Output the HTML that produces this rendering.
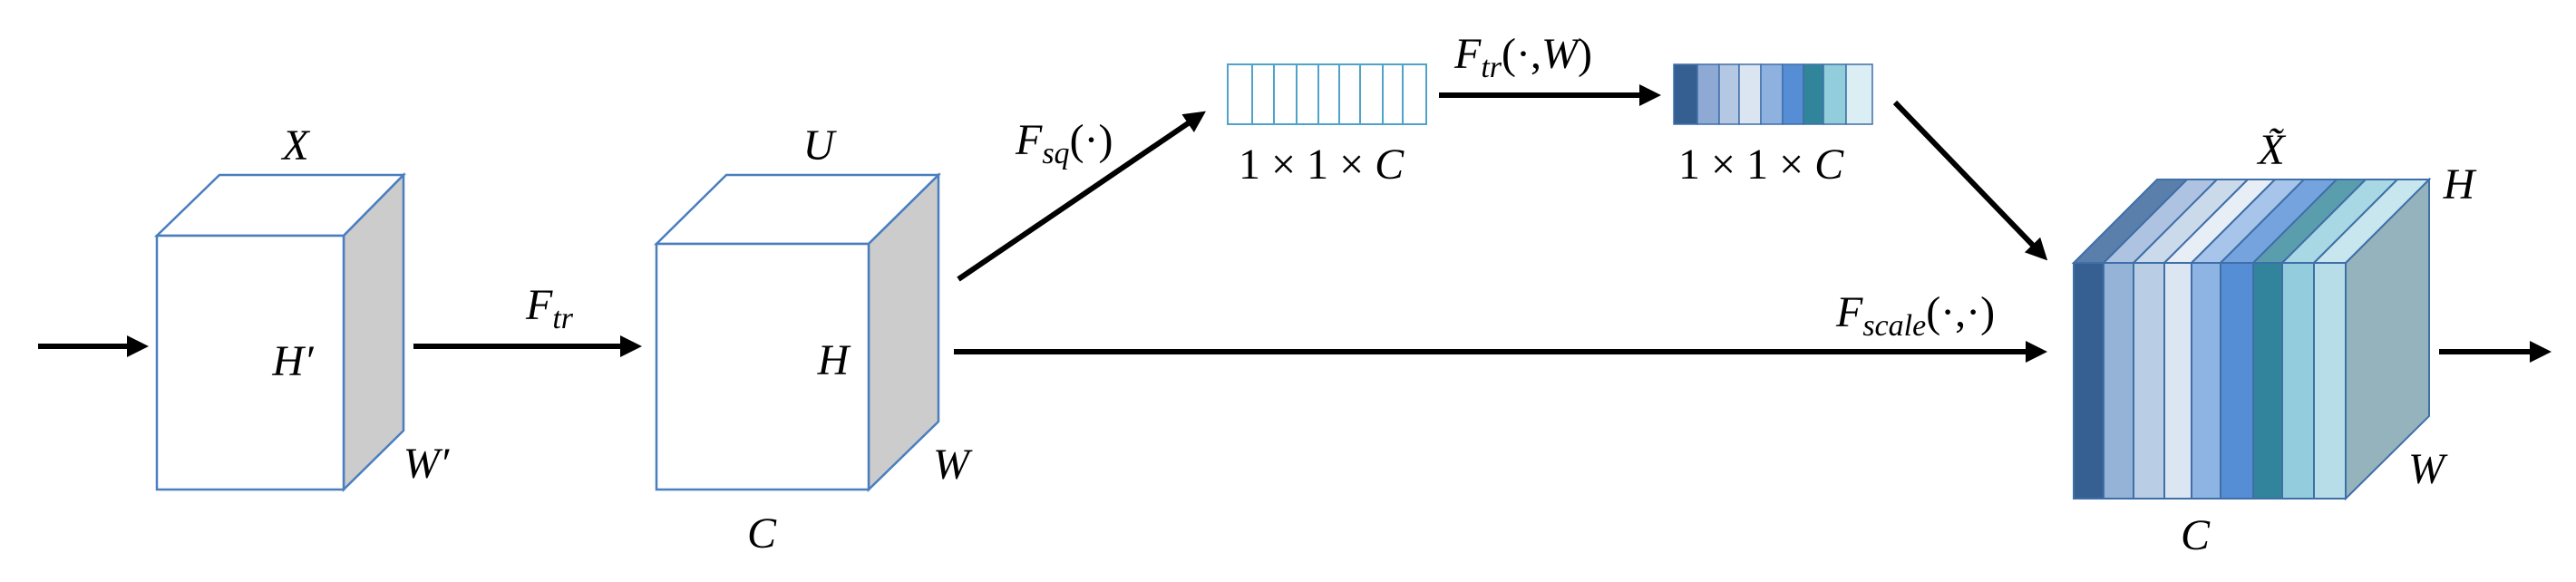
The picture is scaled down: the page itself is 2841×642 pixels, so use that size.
<!DOCTYPE html>
<html><head><meta charset="utf-8"><style>
html,body{margin:0;padding:0;background:#fff}
svg{display:block}
text{font-family:"Liberation Serif",serif;font-style:italic;fill:#000}
.n{font-style:normal}
</style></head><body>
<svg width="2841" height="642" viewBox="0 0 2841 642" xmlns="http://www.w3.org/2000/svg">
<defs>
<marker id="ah" markerWidth="4" markerHeight="4" refX="3" refY="2" orient="auto" markerUnits="strokeWidth">
<path d="M0,0 L4,2 L0,4 z" fill="#000"/></marker>
</defs>
<g stroke="#000" stroke-width="6" fill="none" marker-end="url(#ah)">
<line x1="42" y1="382" x2="158" y2="382"/>
<line x1="456" y1="382" x2="702" y2="382"/>
<line x1="1057" y1="308" x2="1325" y2="126"/>
<line x1="1587" y1="105" x2="1826" y2="105"/>
<line x1="2090" y1="113" x2="2254" y2="283"/>
<line x1="1052" y1="388" x2="2252" y2="388"/>
<line x1="2690" y1="388" x2="2808" y2="388"/>
</g>
<!-- Box X -->
<g stroke="#4a7ebf" stroke-width="2.5">
<polygon points="173,260 242,193 445,193 379,260" fill="#fff"/>
<polygon points="379,260 445,193 445,475 379,540" fill="#cccccc"/>
<rect x="173" y="260" width="206" height="280" fill="#fff"/>
<polygon points="724,269 801,193 1035,193 958,269" fill="#fff"/>
<polygon points="958,269 1035,193 1035,465 958,540" fill="#cccccc"/>
<rect x="724" y="269" width="234" height="271" fill="#fff"/>
</g>
<!-- vectors -->
<g stroke="#4fa3c8" stroke-width="2" fill="#fff">
<rect x="1354" y="71" width="219" height="66"/>
<line x1="1381" y1="71" x2="1381" y2="137"/><line x1="1405" y1="71" x2="1405" y2="137"/>
<line x1="1430" y1="71" x2="1430" y2="137"/><line x1="1454" y1="71" x2="1454" y2="137"/>
<line x1="1477" y1="71" x2="1477" y2="137"/><line x1="1500" y1="71" x2="1500" y2="137"/>
<line x1="1525" y1="71" x2="1525" y2="137"/><line x1="1547" y1="71" x2="1547" y2="137"/>
</g>
<g stroke="#3f6fa8" stroke-width="1.5">
<rect x="1846" y="71" width="26" height="66" fill="#365f91"/>
<rect x="1872" y="71" width="24" height="66" fill="#8eaad4"/>
<rect x="1896" y="71" width="22" height="66" fill="#b4c8e4"/>
<rect x="1918" y="71" width="24" height="66" fill="#dbe5f1"/>
<rect x="1942" y="71" width="24" height="66" fill="#8eb1e0"/>
<rect x="1966" y="71" width="23" height="66" fill="#558ed5"/>
<rect x="1989" y="71" width="22" height="66" fill="#31859b"/>
<rect x="2011" y="71" width="25" height="66" fill="#92cddc"/>
<rect x="2036" y="71" width="29" height="66" fill="#daeef3"/>
</g>
<!-- Box X tilde -->
<g stroke="#3f6fa8" stroke-width="2">
<polygon points="2587,290 2679,198 2679,459 2587,550" fill="#95b3bd"/>
<polygon points="2287,290 2379,198 2412,198 2320,290" fill="#5a7fab"/>
<polygon points="2320,290 2412,198 2445,198 2353,290" fill="#adc3e1"/>
<polygon points="2353,290 2445,198 2479,198 2387,290" fill="#cbdaeb"/>
<polygon points="2387,290 2479,198 2509,198 2417,290" fill="#e7eef6"/>
<polygon points="2417,290 2509,198 2541,198 2449,290" fill="#a7c5eb"/>
<polygon points="2449,290 2541,198 2577,198 2485,290" fill="#74a3de"/>
<polygon points="2485,290 2577,198 2609,198 2517,290" fill="#5a9ead"/>
<polygon points="2517,290 2609,198 2644,198 2552,290" fill="#a8d8e3"/>
<polygon points="2552,290 2644,198 2679,198 2587,290" fill="#c8e6ee"/>
<rect x="2287" y="290" width="33" height="260" fill="#366092"/>
<rect x="2320" y="290" width="33" height="260" fill="#95b3d7"/>
<rect x="2353" y="290" width="34" height="260" fill="#b9cde5"/>
<rect x="2387" y="290" width="30" height="260" fill="#dce6f2"/>
<rect x="2417" y="290" width="32" height="260" fill="#8eb4e3"/>
<rect x="2449" y="290" width="36" height="260" fill="#558ed5"/>
<rect x="2485" y="290" width="32" height="260" fill="#31849b"/>
<rect x="2517" y="290" width="35" height="260" fill="#93cddd"/>
<rect x="2552" y="290" width="35" height="260" fill="#b7dee8"/>
</g>
<!-- labels -->
<g font-size="48">
<text x="326" y="176" text-anchor="middle">X</text>
<text x="323" y="414" text-anchor="middle">H′</text>
<text x="470" y="527" text-anchor="middle">W′</text>
<text x="580" y="352">F<tspan font-size="34" dy="10">tr</tspan></text>
<text x="903" y="176" text-anchor="middle">U</text>
<text x="919" y="413" text-anchor="middle">H</text>
<text x="1049" y="528" text-anchor="middle">W</text>
<text x="840" y="604" text-anchor="middle">C</text>
<text x="1120" y="170">F<tspan font-size="34" dy="10">sq</tspan><tspan class="n" dy="-10">(·)</tspan></text>
<text x="1366" y="197" class="n">1 × 1 × <tspan font-style="italic">C</tspan></text>
<text x="1604" y="75">F<tspan font-size="34" dy="10">tr</tspan><tspan class="n" dy="-10">(·,</tspan>W<tspan class="n">)</tspan></text>
<text x="1851" y="197" class="n">1 × 1 × <tspan font-style="italic">C</tspan></text>
<text x="2025" y="360">F<tspan font-size="34" dy="10">scale</tspan><tspan class="n" dy="-10">(·,·)</tspan></text>
<text x="2505" y="181" text-anchor="middle">X̃</text>
<text x="2712" y="219" text-anchor="middle">H</text>
<text x="2676" y="533" text-anchor="middle">W</text>
<text x="2421" y="606" text-anchor="middle">C</text>
</g>
</svg>
</body></html>
